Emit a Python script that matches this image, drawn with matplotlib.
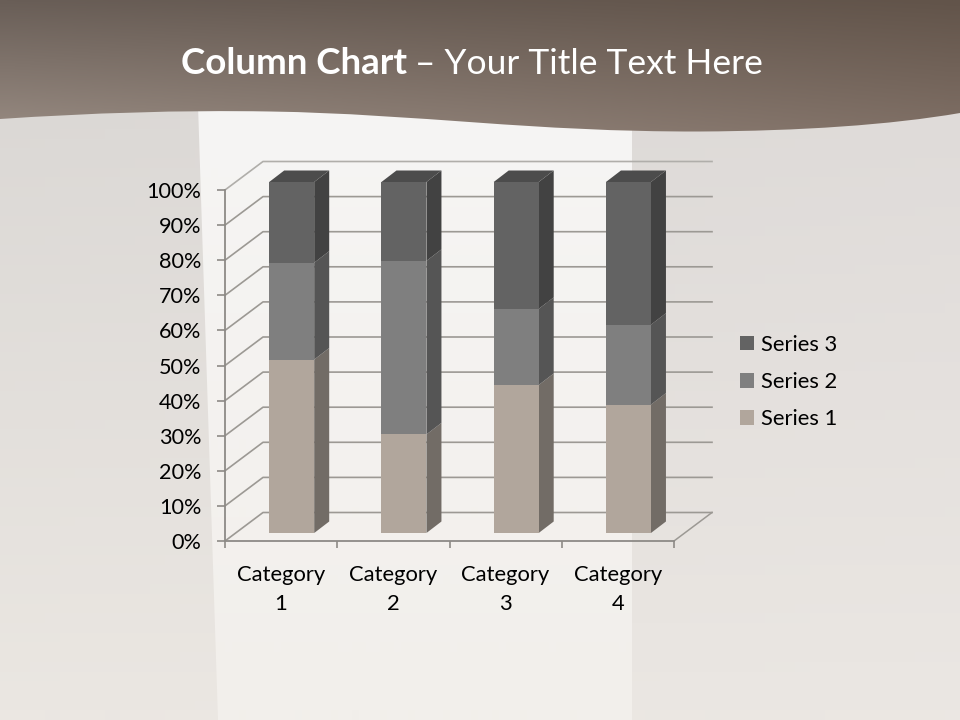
import numpy as np
import matplotlib
matplotlib.use("Agg")
import matplotlib.pyplot as plt
from matplotlib.patches import Polygon, PathPatch, Rectangle
from matplotlib.path import Path

# chart data
categories = ["Category\n1", "Category\n2", "Category\n3", "Category\n4"]
series_names = ["Series 1", "Series 2", "Series 3"]
series_1 = [4.3, 2.5, 3.5, 4.5]
series_2 = [2.4, 4.4, 1.8, 2.8]
series_3 = [2, 2, 3, 5]
y_ticks = [0, 10, 20, 30, 40, 50, 60, 70, 80, 90, 100]

front_colors = ["#b1a69c", "#7f7f7f", "#636363"]
side_colors = ["#726c66", "#555555", "#424242"]
top_colors = ["#8d857d", "#666666", "#4c4c4c"]
grid_color = "#9c9994"

plt.rcParams["font.family"] = ["Lato", "DejaVu Sans"]

fig = plt.figure(figsize=(9.6, 7.2), dpi=100)


def corner_gradient(tl, tr, bl, br, n=64):
    # blend four corner colours into an image
    tl, tr, bl, br = [np.array(matplotlib.colors.to_rgb(c)) for c in (tl, tr, bl, br)]
    u, v = np.meshgrid(np.linspace(0, 1, n), np.linspace(0, 1, n))
    u, v = u[..., None], v[..., None]
    return (1 - v) * ((1 - u) * tl + u * tr) + v * ((1 - u) * bl + u * br)


# slide background, in pixel coordinates
bg = fig.add_axes([0, 0, 1, 1])
bg.set_xlim(0, 960)
bg.set_ylim(720, 0)
bg.axis("off")

bg.imshow(corner_gradient("#dbd8d5", "#dfdbd9", "#ebe7e2", "#ebe7e3"),
          extent=(0, 960, 720, 100), aspect="auto", zorder=0)

panel = Polygon([(198, 105), (632, 105), (632, 720), (218, 720)], closed=True,
                facecolor="none", edgecolor="none", zorder=1)
bg.add_patch(panel)
panel_img = bg.imshow(corner_gradient("#f6f5f4", "#f6f5f4", "#f2efeb", "#f2efeb"),
                      extent=(190, 640, 720, 100), aspect="auto", zorder=1)
panel_img.set_clip_path(panel)

# wavy header band
wave = Path(
    [(0, 0), (0, 119), (90, 113), (180, 110), (270, 111.5),
     (420, 114), (530, 132), (700, 131.5),
     (800, 131), (890, 125), (960, 113), (960, 0), (0, 0)],
    [Path.MOVETO, Path.LINETO, Path.CURVE4, Path.CURVE4, Path.CURVE4,
     Path.CURVE4, Path.CURVE4, Path.CURVE4,
     Path.CURVE4, Path.CURVE4, Path.CURVE4, Path.LINETO, Path.CLOSEPOLY])
wave_patch = PathPatch(wave, facecolor="none", edgecolor="none", zorder=2)
bg.add_patch(wave_patch)
wave_img = bg.imshow(corner_gradient("#695e57", "#62544a", "#988b82", "#807066"),
                     extent=(0, 960, 135, 0), aspect="auto", zorder=2)
wave_img.set_clip_path(wave_patch)
bg.set_xlim(0, 960)
bg.set_ylim(720, 0)

# title
bg.text(181, 64, "Column Chart", color="white", fontsize=26.5, fontweight="bold",
        va="center", ha="left", zorder=3)
bg.text(415, 64, "– Your Title Text Here", color="white", fontsize=25.5,
        va="center", ha="left", zorder=3)

# chart axes: the front plane of the 3D box
ax = fig.add_axes([225 / 960, 1 - 541 / 720, 449 / 960, 351 / 720])
ax.patch.set_alpha(0)
ax.set_xlim(0, 4)
ax.set_ylim(0, 100)

px_x = 4 / 449
px_y = 100 / 351
depth_x, depth_y = 38 * px_x, 28.5 * px_y

# back wall, floor and gridlines
for t in y_ticks:
    ax.plot([0, depth_x, 4 + depth_x], [t, t + depth_y, t + depth_y],
            color="#b0aeaa" if t == 100 else grid_color, lw=1.2, clip_on=False, zorder=1)
ax.plot([4, 4 + depth_x], [0, depth_y], color=grid_color, lw=1.1, clip_on=False, zorder=1)

# stacked columns, as shares of each category total
values = np.array([series_1, series_2, series_3], dtype=float)
shares = values / values.sum(axis=0) * 100

bar_w = 45 * px_x
bar_dx, bar_dy = 15 * px_x, 11.5 * px_y
shift_x, shift_y = 44.2 * px_x, 8 * px_y

for i in range(len(categories)):
    x0 = i + shift_x
    x1 = x0 + bar_w
    bottom = shift_y
    for s in range(len(series_names)):
        top = bottom + shares[s, i]
        ax.add_patch(Polygon([(x1, bottom), (x1 + bar_dx, bottom + bar_dy),
                              (x1 + bar_dx, top + bar_dy), (x1, top)],
                             facecolor=side_colors[s], edgecolor="none",
                             clip_on=False, zorder=3))
        if s == len(series_names) - 1:
            ax.add_patch(Polygon([(x0, top), (x1, top), (x1 + bar_dx, top + bar_dy),
                                  (x0 + bar_dx, top + bar_dy)],
                                 facecolor=top_colors[s], edgecolor="none",
                                 clip_on=False, zorder=3))
        ax.bar(x0, shares[s, i], bar_w, bottom=bottom, align="edge",
               color=front_colors[s], clip_on=False, zorder=4)
        bottom = top

# axes, ticks and labels
for name in ("top", "right"):
    ax.spines[name].set_visible(False)
for name in ("left", "bottom"):
    ax.spines[name].set_color("#8d8a86")
    ax.spines[name].set_linewidth(1.3)

ax.set_yticks(y_ticks)
ax.set_yticklabels([f"{t}%" for t in y_ticks])
ax.tick_params(axis="y", length=6, width=1.2, color="#8d8a86", pad=11,
               labelsize=15.6, labelcolor="black")
ax.set_xticks(range(5))
ax.set_xticklabels([])
ax.tick_params(axis="x", which="major", length=5, width=1.2, color="#8d8a86")
ax.set_xticks(np.arange(4) + 0.5, minor=True)
ax.set_xticklabels(categories, minor=True, linespacing=1.6)
ax.tick_params(axis="x", which="minor", length=0, pad=17, labelsize=15.8, labelcolor="black")

# legend, top entry is the last series
handles = [Rectangle((0, 0), 1, 1, facecolor=front_colors[s]) for s in range(len(series_names))]
ax.legend(handles[::-1], series_names[::-1], loc="center left",
          bbox_to_anchor=(736 / 960, 1 - 382 / 720), bbox_transform=fig.transFigure,
          frameon=False, fontsize=15.8, handlelength=0.64, handleheight=0.64,
          handletextpad=0.28, labelspacing=0.78, borderpad=0, borderaxespad=0.2)

fig.savefig("out.png", dpi=100)
